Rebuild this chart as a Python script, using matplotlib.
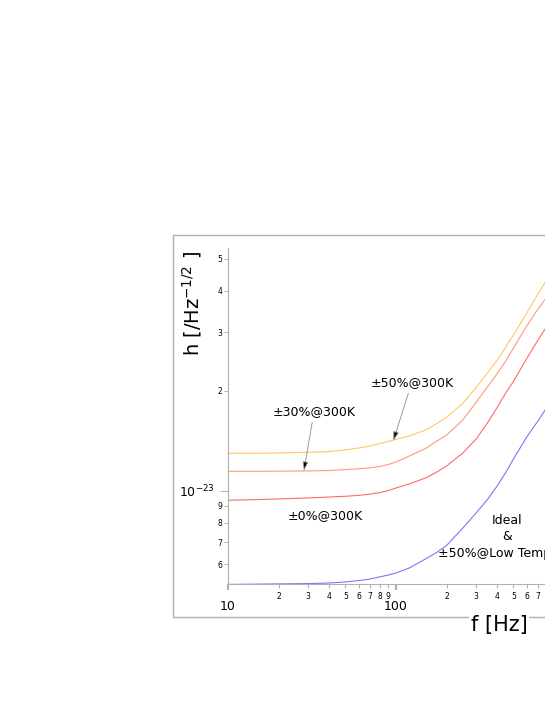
import matplotlib
matplotlib.use('Agg')
import matplotlib.pyplot as plt
from matplotlib.patches import Rectangle
from matplotlib.ticker import FixedLocator, FixedFormatter

plt.rcParams['font.family'] = ['DejaVu Sans']

# 频率 [Hz]
freq = [10, 15, 20, 30, 40, 50, 60, 70, 80, 90, 100, 120, 150, 175, 200,
        250, 300, 350, 400, 450, 500, 600, 700, 800]

# h 值，单位 1e-23 /Hz^-1/2
h_50_300k = [1.296, 1.297, 1.299, 1.305, 1.312, 1.326, 1.345, 1.363, 1.387, 1.407,
             1.427, 1.462, 1.523, 1.594, 1.665, 1.834, 2.044, 2.262, 2.471, 2.709,
             2.944, 3.429, 3.912, 4.373]
h_30_300k = [1.144, 1.144, 1.145, 1.147, 1.150, 1.158, 1.164, 1.171, 1.183, 1.199,
             1.220, 1.272, 1.340, 1.411, 1.471, 1.633, 1.848, 2.053, 2.250, 2.459,
             2.691, 3.134, 3.527, 3.859]
h_0_300k = [0.936, 0.940, 0.944, 0.951, 0.957, 0.962, 0.968, 0.976, 0.987, 1.001,
            1.019, 1.048, 1.092, 1.138, 1.187, 1.299, 1.431, 1.599, 1.781, 1.969,
            2.133, 2.502, 2.843, 3.156]
h_ideal = [0.522, 0.523, 0.524, 0.525, 0.527, 0.531, 0.536, 0.542, 0.550, 0.557,
           0.565, 0.585, 0.623, 0.652, 0.684, 0.772, 0.857, 0.940, 1.033, 1.135,
           1.246, 1.451, 1.622, 1.799]
scale = 1e-23

x_major = [10, 100]
x_major_labels = ['10', '100']
x_minor = [20, 30, 40, 50, 60, 70, 80, 90, 200, 300, 400, 500, 600, 700]
x_minor_labels = ['2', '3', '4', '5', '6', '7', '8', '9', '2', '3', '4', '5', '6', '7']
y_major = [1e-23]
y_major_labels = [r'$10^{-23}$']
y_minor = [6e-24, 7e-24, 8e-24, 9e-24, 2e-23, 3e-23, 4e-23, 5e-23]
y_minor_labels = ['6', '7', '8', '9', '2', '3', '4', '5']

W, H = 545, 705
fig = plt.figure(figsize=(W / 100, H / 100), dpi=100)

# 坐标轴位置按像素换算（右侧超出画布，被裁掉）
left, right, top, bottom = 228, 564, 248.3, 584.3
ax = fig.add_axes([left / W, 1 - bottom / H, (right - left) / W, (bottom - top) / H])
ax.patch.set_facecolor('none')

ax.plot(freq, [v * scale for v in h_50_300k], color='#ffc864', lw=0.8)
ax.plot(freq, [v * scale for v in h_30_300k], color='#ff9a78', lw=0.8)
ax.plot(freq, [v * scale for v in h_0_300k], color='#ff6a6a', lw=0.8)
ax.plot(freq, [v * scale for v in h_ideal], color='#7878ff', lw=0.8)

ax.set_xscale('log')
ax.set_yscale('log')
ax.set_xlim(10, 1000)
ax.set_ylim(0.5224e-23, 5.372e-23)

ax.xaxis.set_major_locator(FixedLocator(x_major))
ax.xaxis.set_major_formatter(FixedFormatter(x_major_labels))
ax.xaxis.set_minor_locator(FixedLocator(x_minor))
ax.xaxis.set_minor_formatter(FixedFormatter(x_minor_labels))
ax.yaxis.set_major_locator(FixedLocator(y_major))
ax.yaxis.set_major_formatter(FixedFormatter(y_major_labels))
ax.yaxis.set_minor_locator(FixedLocator(y_minor))
ax.yaxis.set_minor_formatter(FixedFormatter(y_minor_labels))

grey = '#b0b0b0'
for s in ['top', 'right']:
    ax.spines[s].set_visible(False)
for s in ['left', 'bottom']:
    ax.spines[s].set_color(grey)
    ax.spines[s].set_linewidth(0.8)

ax.tick_params(axis='x', which='major', length=4.5, width=1.5, color=grey, labelsize=9, pad=7)
ax.tick_params(axis='x', which='minor', length=3, width=0.7, color=grey, labelsize=5.5, pad=2.5)
ax.tick_params(axis='y', which='major', length=6, width=0.7, color=grey, labelsize=9, pad=3.5)
ax.tick_params(axis='y', which='minor', length=3, width=0.7, color=grey, labelsize=5.5, pad=1)

# 标注
arrow = dict(arrowstyle='-|>,head_length=0.6,head_width=0.18', lw=0.6, ec='0.55', fc='black',
             shrinkA=1, shrinkB=0)
ax.annotate('±30%@300K', xy=(28.3, 1.147e-23), xytext=(32.5, 1.729e-23),
            ha='center', va='center', fontsize=9, arrowprops=arrow)
ax.annotate('±50%@300K', xy=(96.4, 1.414e-23), xytext=(124, 2.115e-23),
            ha='center', va='center', fontsize=9, arrowprops=arrow)
ax.text(38.1, 0.841e-23, '±0%@300K', ha='center', va='center', fontsize=9)
ax.text(456, 0.816e-23, 'Ideal', ha='center', va='center', fontsize=9)
ax.text(456, 0.727e-23, '&', ha='center', va='center', fontsize=9)
ax.text(178, 0.648e-23, '±50%@Low Temp', ha='left', va='center', fontsize=9, clip_on=False)

# 外框
frame = Rectangle((173 / W, 1 - 616.7 / H), (700 - 173) / W, (616.7 - 235) / H,
                  transform=fig.transFigure, fill=False, ec=grey, lw=1.0, zorder=1)
fig.add_artist(frame)

fig.text(499 / W, 1 - 625.5 / H, 'f [Hz]', ha='center', va='center', fontsize=15,
         bbox=dict(facecolor='white', edgecolor='none', pad=1), zorder=5)
fig.text(192 / W, 1 - 304 / H, r'h [/Hz$^{-1/2}$ ]', ha='center', va='center',
         fontsize=14, rotation=90)

fig.savefig('out.png', dpi=100)
